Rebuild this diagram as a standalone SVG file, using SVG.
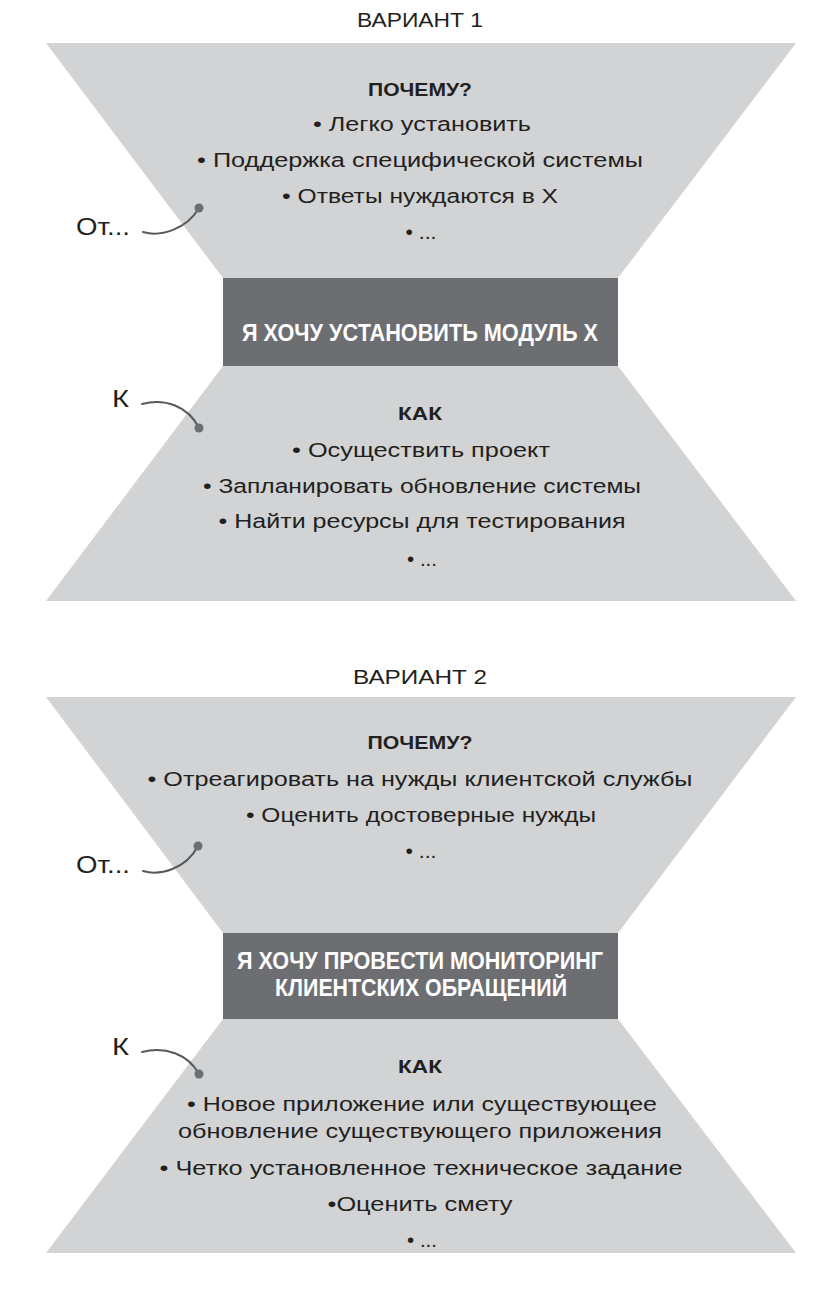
<svg xmlns="http://www.w3.org/2000/svg" width="830" height="1289" viewBox="0 0 830 1289">
<style>
.light{fill:#d1d3d4}
.dark{fill:#6d6e71}
.t{font-family:"Liberation Sans","DejaVu Sans",sans-serif;font-size:20px;fill:#231f20;text-anchor:middle}
.title{font-family:"Liberation Sans","DejaVu Sans",sans-serif;font-size:21px;fill:#231f20;text-anchor:middle}
.lbl{font-family:"Liberation Sans","DejaVu Sans",sans-serif;font-size:23px;fill:#231f20}
.h{font-family:"Liberation Sans","DejaVu Sans",sans-serif;font-size:19px;font-weight:bold;fill:#231f20;text-anchor:middle}
.w{font-family:"Liberation Sans","DejaVu Sans",sans-serif;font-size:23px;font-weight:bold;fill:#ffffff;text-anchor:middle}
.conn{fill:none;stroke:#58595b;stroke-width:2;stroke-linecap:round}
.dot{fill:#6d6e71}
</style>
<rect width="830" height="1289" fill="#ffffff"/>

<!-- Variant 1 -->
<text class="title" x="420" y="27" textLength="126" lengthAdjust="spacingAndGlyphs">ВАРИАНТ 1</text>

<g id="why1">
<polygon class="light" points="46,43 796,43 618,278 223,278"/>
<text class="h" x="420" y="96" textLength="104" lengthAdjust="spacingAndGlyphs">ПОЧЕМУ?</text>
<text class="t" x="422" y="131" textLength="218" lengthAdjust="spacingAndGlyphs">• Легко установить</text>
<text class="t" x="420" y="167" textLength="446" lengthAdjust="spacingAndGlyphs">• Поддержка специфической системы</text>
<text class="t" x="420" y="203" textLength="276" lengthAdjust="spacingAndGlyphs">• Ответы нуждаются в X</text>
<text class="t" x="421" y="239" textLength="31" lengthAdjust="spacingAndGlyphs">• ...</text>
</g>

<g id="goal1">
<rect class="dark" x="223" y="278" width="395" height="88"/>
<text class="w" x="420" y="341" textLength="356" lengthAdjust="spacingAndGlyphs">Я ХОЧУ УСТАНОВИТЬ МОДУЛЬ X</text>
</g>

<g id="how1">
<polygon class="light" points="223,366 618,366 796,601 46,601"/>
<text class="h" x="420" y="420" textLength="44" lengthAdjust="spacingAndGlyphs">КАК</text>
<text class="t" x="421" y="457" textLength="258" lengthAdjust="spacingAndGlyphs">• Осуществить проект</text>
<text class="t" x="422" y="493" textLength="438" lengthAdjust="spacingAndGlyphs">• Запланировать обновление системы</text>
<text class="t" x="422" y="528" textLength="407" lengthAdjust="spacingAndGlyphs">• Найти ресурсы для тестирования</text>
<text class="t" x="422" y="566" textLength="30" lengthAdjust="spacingAndGlyphs">• ...</text>
</g>

<g id="from1"><text class="lbl" x="76" y="235" textLength="54" lengthAdjust="spacingAndGlyphs">От...</text></g>
<g id="to1"><text class="lbl" x="112" y="407" textLength="17" lengthAdjust="spacingAndGlyphs">К</text></g>

<!-- Variant 2 -->
<text class="title" x="420" y="684" textLength="134" lengthAdjust="spacingAndGlyphs">ВАРИАНТ 2</text>

<g id="why2">
<polygon class="light" points="46,697 796,697 618,933 223,933"/>
<text class="h" x="420" y="749" textLength="105" lengthAdjust="spacingAndGlyphs">ПОЧЕМУ?</text>
<text class="t" x="420" y="786" textLength="545" lengthAdjust="spacingAndGlyphs">• Отреагировать на нужды клиентской службы</text>
<text class="t" x="421" y="822" textLength="350" lengthAdjust="spacingAndGlyphs">• Оценить достоверные нужды</text>
<text class="t" x="421" y="858" textLength="31" lengthAdjust="spacingAndGlyphs">• ...</text>
</g>

<g id="goal2">
<rect class="dark" x="223" y="933" width="395" height="86"/>
<text class="w" x="420" y="969" textLength="366" lengthAdjust="spacingAndGlyphs">Я ХОЧУ ПРОВЕСТИ МОНИТОРИНГ</text>
<text class="w" x="421" y="996" textLength="292" lengthAdjust="spacingAndGlyphs">КЛИЕНТСКИХ ОБРАЩЕНИЙ</text>
</g>

<g id="how2">
<polygon class="light" points="223,1019 618,1019 796,1253 46,1253"/>
<text class="h" x="420" y="1073" textLength="44" lengthAdjust="spacingAndGlyphs">КАК</text>
<text class="t" x="422" y="1111" textLength="470" lengthAdjust="spacingAndGlyphs">• Новое приложение или существующее</text>
<text class="t" x="420" y="1138" textLength="484" lengthAdjust="spacingAndGlyphs">обновление существующего приложения</text>
<text class="t" x="421" y="1175" textLength="523" lengthAdjust="spacingAndGlyphs">• Четко установленное техническое задание</text>
<text class="t" x="420" y="1211" textLength="185" lengthAdjust="spacingAndGlyphs">•Оценить смету</text>
<text class="t" x="422" y="1247" textLength="30" lengthAdjust="spacingAndGlyphs">• ...</text>
</g>

<g id="from2"><text class="lbl" x="76" y="873" textLength="54" lengthAdjust="spacingAndGlyphs">От...</text></g>
<g id="to2"><text class="lbl" x="112" y="1055" textLength="17" lengthAdjust="spacingAndGlyphs">К</text></g>

<g id="connectors">
<path class="conn" d="M143,232 C160,237 186,230 199,208"/>
<circle class="dot" cx="199" cy="208" r="4.5"/>
<path class="conn" d="M142,404 C165,398 188,406 199,428"/>
<circle class="dot" cx="199" cy="428" r="4.5"/>
<path class="conn" d="M143,871 C160,876 186,869 198,846"/>
<circle class="dot" cx="198" cy="846" r="4.5"/>
<path class="conn" d="M142,1052 C165,1046 188,1054 199,1074"/>
<circle class="dot" cx="199" cy="1074" r="4.5"/>
</g>
</svg>
